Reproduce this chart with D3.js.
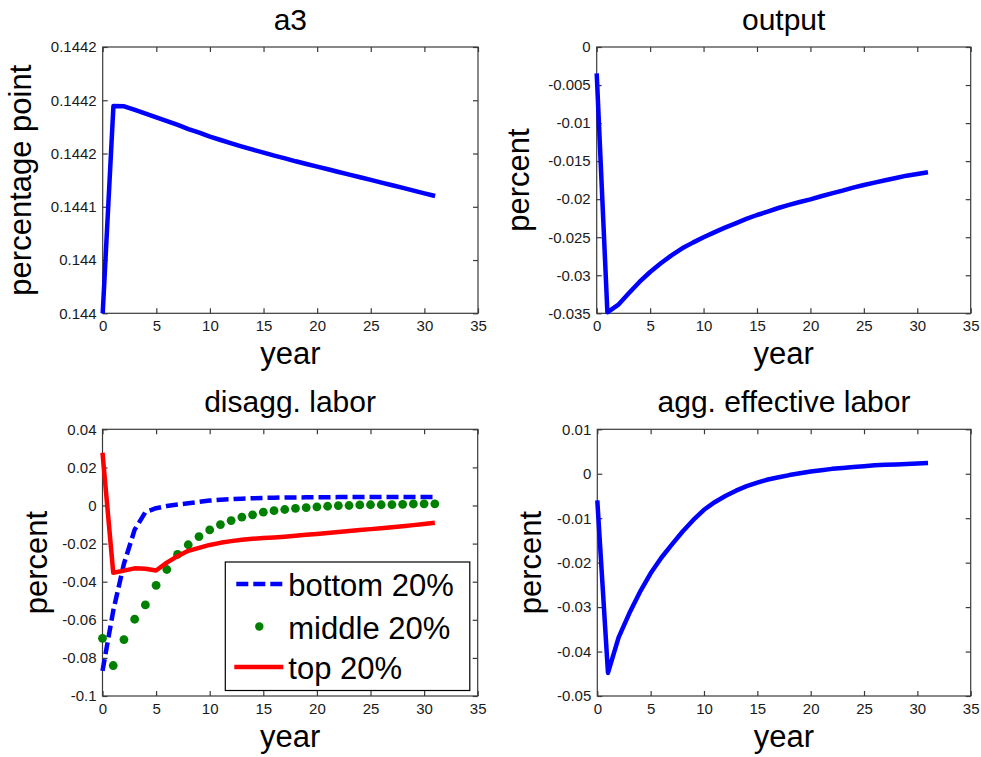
<!DOCTYPE html>
<html>
<head>
<meta charset="utf-8">
<script src="https://cdn.jsdelivr.net/npm/d3@7"></script>
<style>
  html, body { margin: 0; padding: 0; background: #fff; }
  svg { display: block; font-family: "Liberation Sans", Arial, Helvetica, sans-serif; }
</style>
</head>
<body>
<svg id="fig" width="981" height="757"></svg>
<script>
// Horizon in years
const years = [0,1,2,3,4,5,6,7,8,9,10,11,12,13,14,15,16,17,18,19,20,21,22,23,24,25,26,27,28,29,30,31];

// a3 response (percentage point)
const a3Values = [0.1440000,0.1441946,0.1441943,0.1441909,0.1441874,0.1441840,0.1441805,0.1441768,
  0.1441730,0.1441696,0.1441658,0.1441627,0.1441596,0.1441565,0.1441536,0.1441508,0.1441480,0.1441455,
  0.1441427,0.1441402,0.1441377,0.1441352,0.1441327,0.1441302,0.1441277,0.1441252,0.1441227,0.1441202,
  0.1441177,0.1441151,0.1441126,0.1441101];

// output response (percent)
const outputValues = [-0.00346,-0.03487,-0.03390,-0.03237,-0.03088,-0.02957,-0.02843,-0.02738,
  -0.02646,-0.02571,-0.02501,-0.02436,-0.02374,-0.02317,-0.02260,-0.02208,-0.02164,-0.02116,
  -0.02076,-0.02037,-0.02002,-0.01962,-0.01923,-0.01888,-0.01849,-0.01814,-0.01783,-0.01752,
  -0.01722,-0.01691,-0.01669,-0.01647];

// disaggregated labor by group (percent)
const bottom20 = [-0.0868,-0.0553,-0.0306,-0.0127,-0.0035,-0.0014,-0.0003,0.0005,0.0012,0.0019,0.0026,
  0.0030,0.0033,0.0036,0.0038,0.0040,0.0041,0.0042,0.0042,0.0043,0.0043,0.0043,0.0044,0.0044,0.0044,
  0.0044,0.0044,0.0044,0.0044,0.0044,0.0044,0.0044];
const middle20 = [-0.0697,-0.0840,-0.0704,-0.0597,-0.0522,-0.0419,-0.0336,-0.0257,-0.0206,-0.0163,-0.0128,
  -0.0100,-0.0079,-0.0061,-0.0049,-0.0035,-0.0027,-0.0021,-0.0015,-0.0011,-0.0007,-0.0004,-0.0001,0.0000,
  0.0003,0.0004,0.0004,0.0005,0.0006,0.0008,0.0009,0.0009];
const top20 = [0.0277,-0.0353,-0.0342,-0.0330,-0.0332,-0.0341,-0.0300,-0.0266,-0.0238,-0.0222,-0.0207,
  -0.0196,-0.0187,-0.0180,-0.0175,-0.0171,-0.0168,-0.0164,-0.0159,-0.0154,-0.0149,-0.0144,-0.0139,
  -0.0134,-0.0129,-0.0124,-0.0119,-0.0114,-0.0109,-0.0103,-0.0097,-0.0091];

// aggregate effective labor (percent)
const aggLaborValues = [-0.0060,-0.0448,-0.0368,-0.0314,-0.0266,-0.0224,-0.0189,-0.0159,-0.0130,-0.0104,
  -0.0081,-0.0064,-0.0050,-0.0038,-0.0028,-0.0020,-0.0013,-0.0008,-0.0003,0.0001,0.0005,0.0008,0.0011,
  0.0013,0.0015,0.0017,0.0019,0.0020,0.0021,0.0022,0.0023,0.0024];

// Axis ticks
const xTicks = [0,5,10,15,20,25,30,35];
const a3Ticks = [0.14400,0.14405,0.14410,0.14415,0.14420,0.14425];
const a3TickLabels = ["0.144","0.144","0.1441","0.1442","0.1442","0.1442"];
const outputTicks = [0,-0.005,-0.01,-0.015,-0.02,-0.025,-0.03,-0.035];
const outputTickLabels = ["0","-0.005","-0.01","-0.015","-0.02","-0.025","-0.03","-0.035"];
const disaggTicks = [0.04,0.02,0,-0.02,-0.04,-0.06,-0.08,-0.1];
const disaggTickLabels = ["0.04","0.02","0","-0.02","-0.04","-0.06","-0.08","-0.1"];
const aggTicks = [0.01,0,-0.01,-0.02,-0.03,-0.04,-0.05];
const aggTickLabels = ["0.01","0","-0.01","-0.02","-0.03","-0.04","-0.05"];

const seriesNames = ["bottom 20%","middle 20%","top 20%"];

const svg = d3.select("#fig");
const AXIS_COLOR = "#3a3a3a";
const TEXT_COLOR = "#1a1a1a";

function panel(cfg) {
  const g = svg.append("g");
  const x = d3.scaleLinear().domain([0, 35]).range([cfg.left, cfg.left + cfg.width]);
  const y = d3.scaleLinear().domain(cfg.yDomain).range([cfg.top + cfg.height, cfg.top]);
  const bottom = cfg.top + cfg.height, right = cfg.left + cfg.width;
  const tl = 5;

  // frame
  g.append("rect")
    .attr("x", cfg.left).attr("y", cfg.top)
    .attr("width", cfg.width).attr("height", cfg.height)
    .attr("fill", "#fff").attr("stroke", AXIS_COLOR).attr("stroke-width", 1.2);

  // inward ticks on all four sides
  const fmtX = d => String(d);
  const axB = d3.axisBottom(x).tickValues(xTicks).tickSize(-tl).tickPadding(7).tickFormat(fmtX);
  const axT = d3.axisTop(x).tickValues(xTicks).tickSize(-tl).tickFormat("");
  const labelOf = v => cfg.yLabels[cfg.yTicks.indexOf(v)];
  const axL = d3.axisLeft(y).tickValues(cfg.yTicks).tickSize(-tl).tickPadding(6).tickFormat(labelOf);
  const axR = d3.axisRight(y).tickValues(cfg.yTicks).tickSize(-tl).tickFormat("");

  [[axB, `translate(0,${bottom})`], [axT, `translate(0,${cfg.top})`],
   [axL, `translate(${cfg.left},0)`], [axR, `translate(${right},0)`]].forEach(([ax, tr]) => {
    const a = g.append("g").attr("transform", tr).call(ax);
    a.select(".domain").remove();
    a.selectAll(".tick line").attr("stroke", AXIS_COLOR).attr("stroke-width", 1.2);
    a.selectAll(".tick text").attr("fill", TEXT_COLOR)
      .style("font-size", "15px").style("font-family", "'Liberation Sans', Arial, sans-serif");
  });

  // title
  g.append("text")
    .attr("x", cfg.left + cfg.width / 2).attr("y", cfg.top - 17)
    .attr("text-anchor", "middle").attr("fill", "#000")
    .style("font-size", "30px").text(cfg.title);

  // x label
  g.append("text")
    .attr("x", cfg.left + cfg.width / 2).attr("y", bottom + 51)
    .attr("text-anchor", "middle").attr("fill", "#000")
    .style("font-size", "31px").text("year");

  // y label
  g.append("text")
    .attr("transform", `translate(${cfg.left - cfg.yLabelOffset},${cfg.top + cfg.height / 2}) rotate(-90)`)
    .attr("text-anchor", "middle").attr("fill", "#000")
    .style("font-size", "31px").text(cfg.yLabel);

  return { g, x, y };
}

function drawLine(p, values, color, dash) {
  const line = d3.line().x((d, i) => p.x(years[i])).y(d => p.y(d));
  const path = p.g.append("path")
    .datum(values)
    .attr("d", line)
    .attr("fill", "none")
    .attr("stroke", color)
    .attr("stroke-width", 4.5)
    .attr("stroke-linejoin", "round");
  if (dash) path.attr("stroke-dasharray", dash);
  return path;
}

// a3
const pA3 = panel({ left: 102.7, top: 47, width: 375.3, height: 266.3,
  yDomain: [0.14400, 0.14425], yTicks: a3Ticks, yLabels: a3TickLabels,
  title: "a3", yLabel: "percentage point", yLabelOffset: 72 });
drawLine(pA3, a3Values, "#0000ff");

// output
const pOut = panel({ left: 596.7, top: 47, width: 374, height: 266.3,
  yDomain: [-0.035, 0], yTicks: outputTicks, yLabels: outputTickLabels,
  title: "output", yLabel: "percent", yLabelOffset: 68 });
drawLine(pOut, outputValues, "#0000ff");

// disaggregated labor
const pDis = panel({ left: 102.5, top: 429.3, width: 375.2, height: 266.7,
  yDomain: [-0.1, 0.04], yTicks: disaggTicks, yLabels: disaggTickLabels,
  title: "disagg. labor", yLabel: "percent", yLabelOffset: 56 });
drawLine(pDis, bottom20, "#0000ff", "12,5");
pDis.g.append("g").selectAll("circle")
  .data(middle20).join("circle")
  .attr("cx", (d, i) => pDis.x(years[i]))
  .attr("cy", d => pDis.y(d))
  .attr("r", 4.4)
  .attr("fill", "#008000");
drawLine(pDis, top20, "#ff0000");

// legend
const lg = pDis.g.append("g").attr("transform", "translate(225.3,562)");
lg.append("rect").attr("width", 244.5).attr("height", 128.5)
  .attr("fill", "#fff").attr("stroke", "#000").attr("stroke-width", 1.2);
const rowY = [22, 64.5, 105];
lg.append("line").attr("x1", 11).attr("x2", 58).attr("y1", rowY[0]).attr("y2", rowY[0])
  .attr("stroke", "#0000ff").attr("stroke-width", 4.5).attr("stroke-dasharray", "12,5");
lg.append("circle").attr("cx", 34).attr("cy", rowY[1]).attr("r", 4.2).attr("fill", "#008000");
lg.append("line").attr("x1", 9).attr("x2", 58).attr("y1", rowY[2]).attr("y2", rowY[2])
  .attr("stroke", "#ff0000").attr("stroke-width", 4.5);
lg.selectAll("text.item").data(seriesNames).join("text")
  .attr("class", "item")
  .attr("x", 63).attr("y", (d, i) => rowY[i] + 12)
  .attr("fill", "#000").style("font-size", "31px").text(d => d);

// aggregate effective labor
const pAgg = panel({ left: 597.3, top: 429.3, width: 373.4, height: 266.7,
  yDomain: [-0.05, 0.01], yTicks: aggTicks, yLabels: aggTickLabels,
  title: "agg. effective labor", yLabel: "percent", yLabelOffset: 56 });
drawLine(pAgg, aggLaborValues, "#0000ff");
</script>
</body>
</html>
